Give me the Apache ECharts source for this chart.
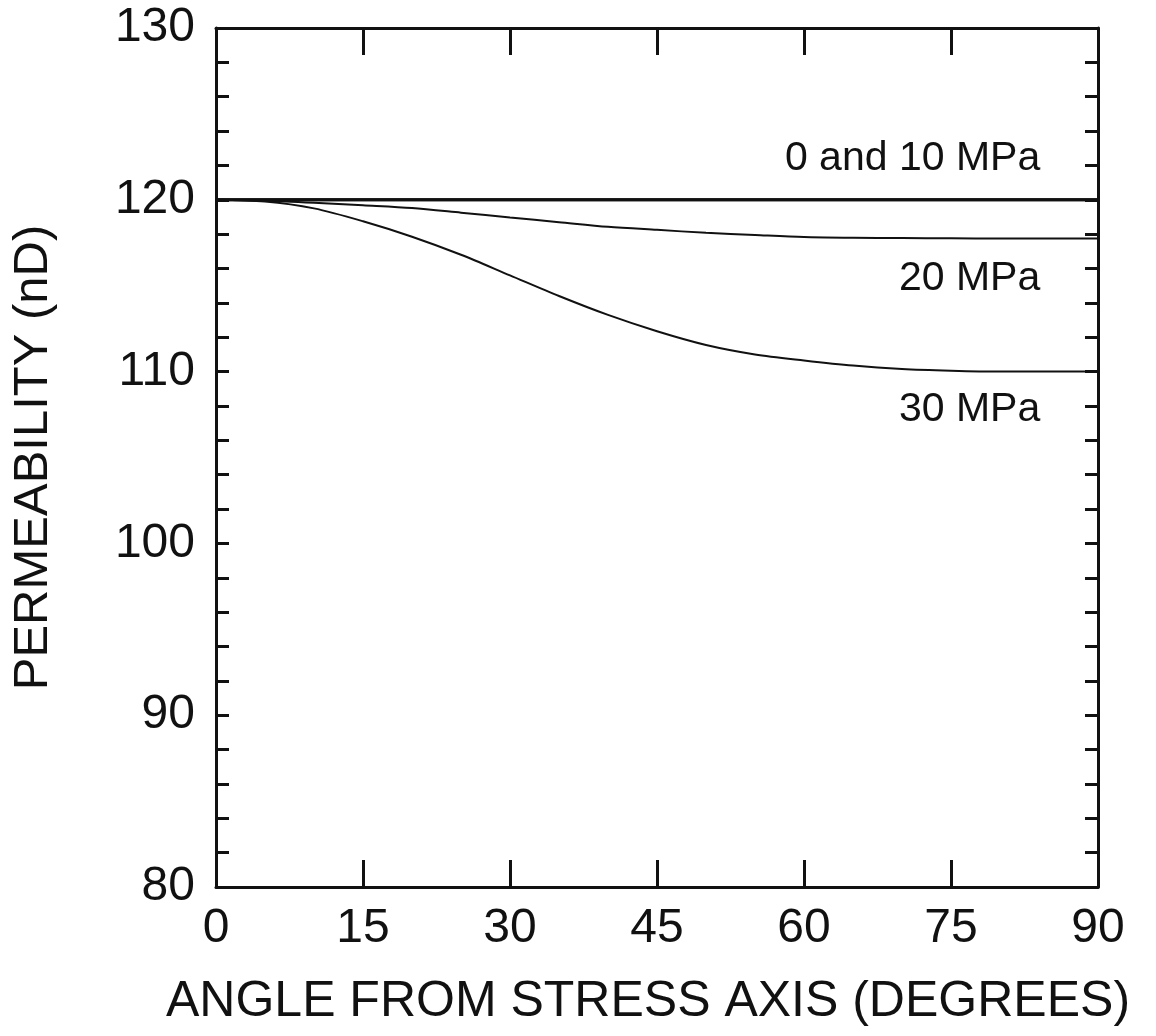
<!DOCTYPE html>
<html>
<head>
<meta charset="utf-8">
<script src="https://cdn.jsdelivr.net/npm/echarts@6/dist/echarts.min.js"></script>
<style>
  html, body { margin: 0; padding: 0; background: #fff; }
  #chart { width: 1156px; height: 1036px; }
</style>
</head>
<body>
<div id="chart"></div>
<script>
// angle from stress axis (degrees)
var angles = [0, 5, 10, 15, 20, 25, 30, 35, 40, 45, 50, 55, 60, 65, 70, 75, 80, 85, 90];
// permeability (nD) for each confining stress
var perm0 = [120, 120, 120, 120, 120, 120, 120, 120, 120, 120, 120, 120, 120, 120, 120, 120, 120, 120, 120];
var perm10 = [120, 120, 120, 120, 120, 120, 120, 120, 120, 120, 120, 120, 120, 120, 120, 120, 120, 120, 120];
var perm20 = [120, 119.95, 119.83, 119.68, 119.52, 119.25, 118.97, 118.7, 118.43, 118.25, 118.08, 117.95, 117.83, 117.79, 117.77, 117.76, 117.75, 117.75, 117.75];
var perm30 = [120, 119.9, 119.5, 118.75, 117.85, 116.8, 115.6, 114.4, 113.3, 112.35, 111.55, 111.0, 110.65, 110.35, 110.15, 110.05, 110.0, 110.0, 110.0];
// curve labels: [text, angle, permeability]
var curveLabels = [
  ['0 and 10 MPa', 84.1, 122.38],
  ['20 MPa', 84.1, 115.4],
  ['30 MPa', 84.1, 107.8]
];

var FONT = 'Liberation Sans';
var INK = '#111';

function pairs(ys) {
  var out = [];
  for (var i = 0; i < angles.length; i++) out.push([angles[i], ys[i]]);
  return out;
}

function lineSeries(name, ys, width) {
  return {
    name: name,
    type: 'line',
    data: pairs(ys),
    smooth: 0.3,
    showSymbol: false,
    lineStyle: { color: INK, width: width },
    z: 3
  };
}

var labelSeries = {
  type: 'scatter',
  data: [],
  silent: true,
  markPoint: {
    symbol: 'circle',
    symbolSize: 0,
    label: {
      show: true,
      position: 'left',
      distance: 0,
      color: INK,
      fontFamily: FONT,
      fontSize: 41
    },
    data: curveLabels.map(function (l) {
      return { coord: [l[1], l[2]], label: { formatter: l[0] } };
    })
  }
};

// frame pieces shared by both x axes and both y axes
var axisLine = { show: true, onZero: false, lineStyle: { color: INK, width: 3 } };
var xTick = { show: true, inside: true, length: 27, lineStyle: { color: INK, width: 3 } };
var yTick = { show: true, inside: true, length: 13, lineStyle: { color: INK, width: 3 } };

var chart = echarts.init(document.getElementById('chart'));
chart.setOption({
  animation: false,
  backgroundColor: '#fff',
  grid: { left: 216, right: 58, top: 28, bottom: 149 },
  xAxis: [{
    type: 'value',
    min: 0, max: 90, interval: 15,
    name: 'ANGLE FROM STRESS AXIS (DEGREES)',
    nameLocation: 'middle',
    nameGap: 90,
    nameTextStyle: { color: INK, fontFamily: FONT, fontSize: 50, padding: [0, 18, 0, 0] },
    axisLine: axisLine,
    axisTick: xTick,
    axisLabel: { color: INK, fontFamily: FONT, fontSize: 48, margin: 18 },
    splitLine: { show: false }
  }, {
    type: 'value',
    position: 'top',
    min: 0, max: 90, interval: 15,
    axisLine: axisLine,
    axisTick: xTick,
    axisLabel: { show: false },
    splitLine: { show: false }
  }],
  yAxis: [{
    type: 'value',
    min: 80, max: 130, interval: 2,
    name: 'PERMEABILITY (nD)',
    nameLocation: 'middle',
    nameGap: 158,
    nameTextStyle: { color: INK, fontFamily: FONT, fontSize: 49 },
    axisLine: axisLine,
    axisTick: yTick,
    axisLabel: {
      color: INK, fontFamily: FONT, fontSize: 48, margin: 21,
      formatter: function (v) { return v % 10 === 0 ? String(v) : ''; }
    },
    splitLine: { show: false }
  }, {
    type: 'value',
    position: 'right',
    min: 80, max: 130, interval: 2,
    axisLine: axisLine,
    axisTick: yTick,
    axisLabel: { show: false },
    splitLine: { show: false }
  }],
  series: [
    lineSeries('0 MPa', perm0, 3),
    lineSeries('10 MPa', perm10, 3),
    lineSeries('20 MPa', perm20, 2),
    lineSeries('30 MPa', perm30, 2),
    labelSeries
  ]
});
</script>
</body>
</html>
